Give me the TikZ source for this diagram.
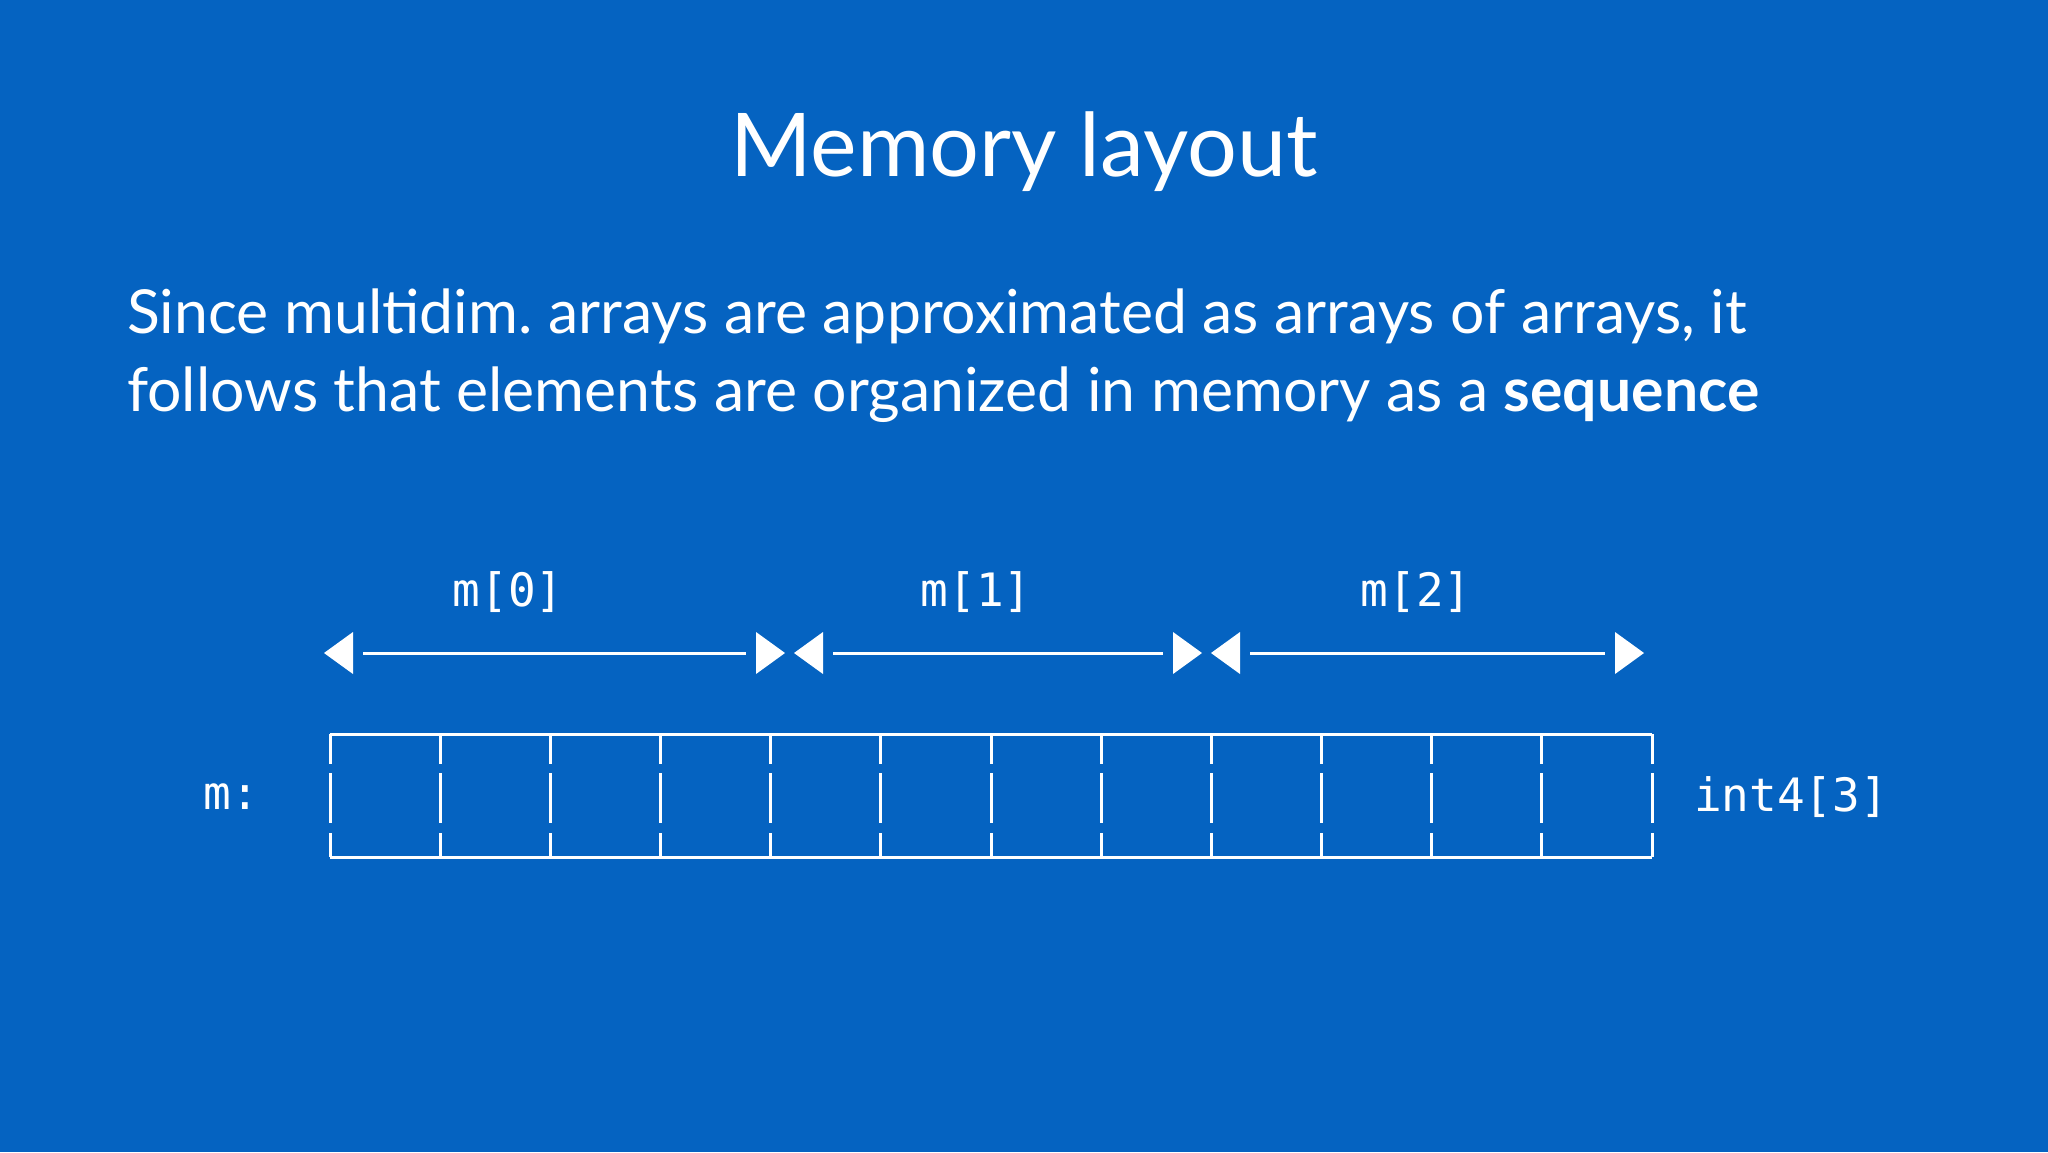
\documentclass[tikz,border=0pt]{standalone}
\usepackage{fontspec}
\setmainfont{Lato}
\newfontfamily\monofnt{DejaVu Sans Mono}
\definecolor{bg}{HTML}{0563C1}
\begin{document}
\begin{tikzpicture}[x=1pt,y=-1pt,
  wl/.style={white,line width=3pt},
  tri/.style={fill=white,draw=none},
  mono/.style={text=white,font=\monofnt\fontsize{46}{54}\selectfont,inner sep=0pt}]
\fill[bg] (0,0) rectangle (2048,1152);
\useasboundingbox (0,0) rectangle (2048,1152);
\node[text=white,font=\fontsize{88}{100}\selectfont,anchor=base] (title) at (1024,176) {Memory layout};
\node[text=white,font=\fontsize{60.7}{78}\selectfont,anchor=base west,inner sep=0pt] (l1) at (127,333) {Since multidim.\ arrays are approximated as arrays of arrays, it};
\node[text=white,font=\fontsize{60.7}{78}\selectfont,anchor=base west,inner sep=0pt] (l2) at (127,411) {follows that elements are organized in memory as a \textbf{sequence}};
% arrows
\foreach \a/\b/\n/\lx/\lab in {324/785/a/508/m[0], 794/1202/b/976/m[1], 1211/1644/c/1416/m[2]}{
  \coordinate (\n L) at (\a,653);
  \coordinate (\n R) at (\b,653);
  \fill[tri] (\n L) -- ++(29,-21) -- ++(0,42) -- cycle;
  \fill[tri] (\n R) -- ++(-29,-21) -- ++(0,42) -- cycle;
  \draw[wl] ([xshift=39]\n L) -- ([xshift=-39]\n R);
  \node[mono] (lab\n) at (\lx,592) {\lab};
}
% cells
\draw[wl] (330,734) -- (1652,734);
\draw[wl] (330,857) -- (1652,857);
\foreach \i in {0,...,12}{
  \pgfmathsetmacro\xx{330+\i*110.1667}
  \draw[wl] (\xx,734) -- (\xx,764);
  \draw[wl] (\xx,773) -- (\xx,823);
  \draw[wl] (\xx,833) -- (\xx,857);
}
\node[mono] (m) at (231,797) {m:};
\node[mono,anchor=west] (t) at (1694,797) {int4[3]};
\end{tikzpicture}
\end{document}
